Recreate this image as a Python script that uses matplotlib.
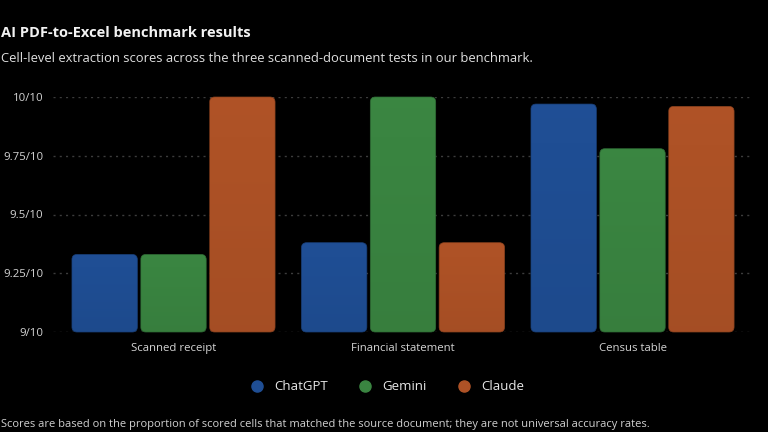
import matplotlib
matplotlib.use("Agg")
import matplotlib.pyplot as plt
import numpy as np
from matplotlib.patches import FancyBboxPatch
from matplotlib.lines import Line2D
from matplotlib.colors import to_rgb

categories = ["Scanned receipt", "Financial statement", "Census table"]
models = ["ChatGPT", "Gemini", "Claude"]
chatgpt = [9.33, 9.38, 9.97]
gemini = [9.33, 10.0, 9.78]
claude = [10.0, 9.38, 9.96]
yticks = [9.0, 9.25, 9.5, 9.75, 10.0]
ytick_labels = ["9/10", "9.25/10", "9.5/10", "9.75/10", "10/10"]
colors = ["#1f4e94", "#3a8541", "#ae5226"]

title = "AI PDF-to-Excel benchmark results"
subtitle = "Cell-level extraction scores across the three scanned-document tests in our benchmark."
footer = ("Scores are based on the proportion of scored cells that matched the source document; "
          "they are not universal accuracy rates.")

plt.rcParams['font.family'] = ['Open Sans', 'DejaVu Sans']

fig = plt.figure(figsize=(7.68, 4.32), dpi=100)
fig.patch.set_facecolor("black")
ax = fig.add_axes([53/768, 1-332/432, 700/768, (332-97)/432])
ax.set_facecolor("black")

series = [chatgpt, gemini, claude]
x = np.arange(len(categories))
offset = 0.30
width = 0.285
base = 9.0

for i, (vals, col) in enumerate(zip(series, colors)):
    bars = ax.bar(x + (i - 1) * offset, np.array(vals) - base, width, bottom=base,
                  color=col, label=models[i])
    r, g, b = to_rgb(col)
    for p in bars.patches:
        x0, y0 = p.get_x(), p.get_y()
        w, h = p.get_width(), p.get_height()
        p.set_visible(False)
        fb = FancyBboxPatch((x0, y0), w, h,
                            boxstyle="round,pad=0,rounding_size=0.022",
                            mutation_aspect=0.98,
                            facecolor="none", edgecolor=(r*0.8, g*0.8, b*0.8),
                            linewidth=0.5, zorder=3, clip_on=False)
        ax.add_patch(fb)
        grad = np.linspace(1.01, 0.95, 64).reshape(-1, 1)
        img = np.ones((64, 1, 3)) * np.array([r, g, b])
        img = np.clip(img * grad[:, :, None], 0, 1)
        im = ax.imshow(img, extent=(x0, x0 + w, y0, y0 + h), origin="upper",
                       aspect="auto", zorder=2.9, interpolation="bilinear")
        im.set_clip_path(fb)

ax.set_xlim(-0.525, 2.525)
ax.set_ylim(9.0, 10.0)
ax.set_yticks(yticks)
ax.set_yticklabels(ytick_labels)
ax.set_xticks(x)
ax.set_xticklabels(categories)
ax.tick_params(axis="both", length=0, colors="#d4d4d4", labelsize=8.2)
ax.tick_params(axis="y", pad=7)
ax.tick_params(axis="x", pad=8)
for s in ax.spines.values():
    s.set_visible(False)
ax.yaxis.grid(True, linestyle=(0, (1.5, 3)), color="#3c3c3c", linewidth=1.0)
ax.set_axisbelow(True)

fig.text(1/768, 1-33/432, title, color="#f2f2f2", fontsize=10.5, fontweight="bold",
         va="center", ha="left")
fig.text(1/768, 1-58/432, subtitle, color="#e0e0e0", fontsize=9.35,
         va="center", ha="left")
fig.text(1/768, 1-425/432, footer, color="#d0d0d0", fontsize=8.0,
         va="center", ha="left")

handles = [Line2D([0], [0], marker="o", linestyle="none", markersize=8,
                  markerfacecolor=c, markeredgecolor=c) for c in colors]
leg = fig.legend(handles, models, loc="center", bbox_to_anchor=(0.5, 1-387/432),
                 ncol=3, frameon=False, fontsize=9.5, handletextpad=0.3,
                 columnspacing=1.8, labelcolor="#e8e8e8")

fig.savefig("out.png", dpi=100, facecolor="black")
